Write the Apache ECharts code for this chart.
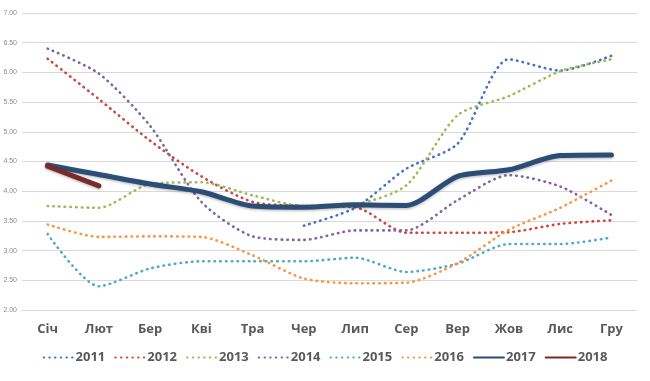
<!DOCTYPE html>
<html><head><meta charset="utf-8">
<script src="https://cdn.jsdelivr.net/npm/echarts@6/dist/echarts.min.js"></script>
<style>html,body{margin:0;padding:0;background:#fff}#c{width:650px;height:381px}</style>
</head><body><div id="c"></div>
<script>
var months = ['Січ','Лют','Бер','Кві','Тра','Чер','Лип','Сер','Вер','Жов','Лис','Гру'];
var s2011 = [null, null, null, null, null, 3.42, 3.72, 4.38, 4.80, 6.22, 6.03, 6.28];
var s2012 = [6.23, 5.55, 4.85, 4.25, 3.82, 3.75, 3.73, 3.30, 3.30, 3.31, 3.45, 3.51];
var s2013 = [3.75, 3.72, 4.12, 4.15, 3.93, 3.75, 3.78, 4.10, 5.28, 5.60, 6.02, 6.22];
var s2014 = [6.40, 5.98, 5.10, 3.82, 3.24, 3.18, 3.34, 3.34, 3.85, 4.27, 4.08, 3.60];
var s2015 = [3.28, 2.40, 2.70, 2.82, 2.82, 2.82, 2.88, 2.64, 2.78, 3.11, 3.11, 3.22];
var s2016 = [3.44, 3.23, 3.24, 3.23, 2.92, 2.53, 2.45, 2.46, 2.79, 3.35, 3.72, 4.18];
var s2017 = [4.44, 4.28, 4.12, 3.99, 3.75, 3.73, 3.77, 3.76, 4.25, 4.36, 4.60, 4.61];
var s2018 = [4.42, 4.09];
var names = ['2011','2012','2013','2014','2015','2016','2017','2018'];
var data = [s2011,s2012,s2013,s2014,s2015,s2016,s2017,s2018];
var colors = ['#4472C4','#D0453F','#9BBB59','#8064A2','#4BACC6','#F79646','#2C4D75','#7A2A28'];

var series = names.map(function(n,i){
  var thick = i >= 6;
  return {
    name: n, type: 'line', data: data[i], symbol: 'none', smooth: 0.25,
    connectNulls: false,
    z: thick ? 5 : 3,
    lineStyle: thick ? {color: colors[i], width: 5, cap: 'round', shadowColor: 'rgba(0,0,0,0.3)', shadowBlur: 3, shadowOffsetY: 1}
                     : {color: colors[i], width: 2.6, type: [0.5, 5.2], cap: 'round'},
    itemStyle: {color: colors[i]}
  };
});

var chart = echarts.init(document.getElementById('c'));
chart.setOption({
  animation: false,
  color: colors,
  grid: {left: 22, right: 13, top: 13, bottom: 71},
  legend: {
    bottom: 12, left: 'center', itemWidth: 30, itemHeight: 8, itemGap: 9,
    itemStyle: {opacity: 0},
    textStyle: {fontSize: 13, fontWeight: 'bold', color: '#595959', fontFamily: 'Open Sans', padding: [0,0,0,-3]},
    data: names
  },
  xAxis: {
    type: 'category', data: months, boundaryGap: true,
    axisLine: {show: true, lineStyle: {color: '#D9D9D9'}},
    axisTick: {show: false},
    axisLabel: {fontSize: 13, fontWeight: 'bold', color: '#595959', margin: 13, fontFamily: 'Open Sans'}
  },
  yAxis: {
    type: 'value', min: 2, max: 7, interval: 0.5,
    axisLine: {show: false}, axisTick: {show: false},
    splitLine: {lineStyle: {color: '#D9D9D9', width: 1}},
    axisLabel: {fontSize: 7, color: '#8C8C8C', margin: 5, formatter: function(v){return v.toFixed(2);}}
  },
  series: series
});
</script></body></html>
